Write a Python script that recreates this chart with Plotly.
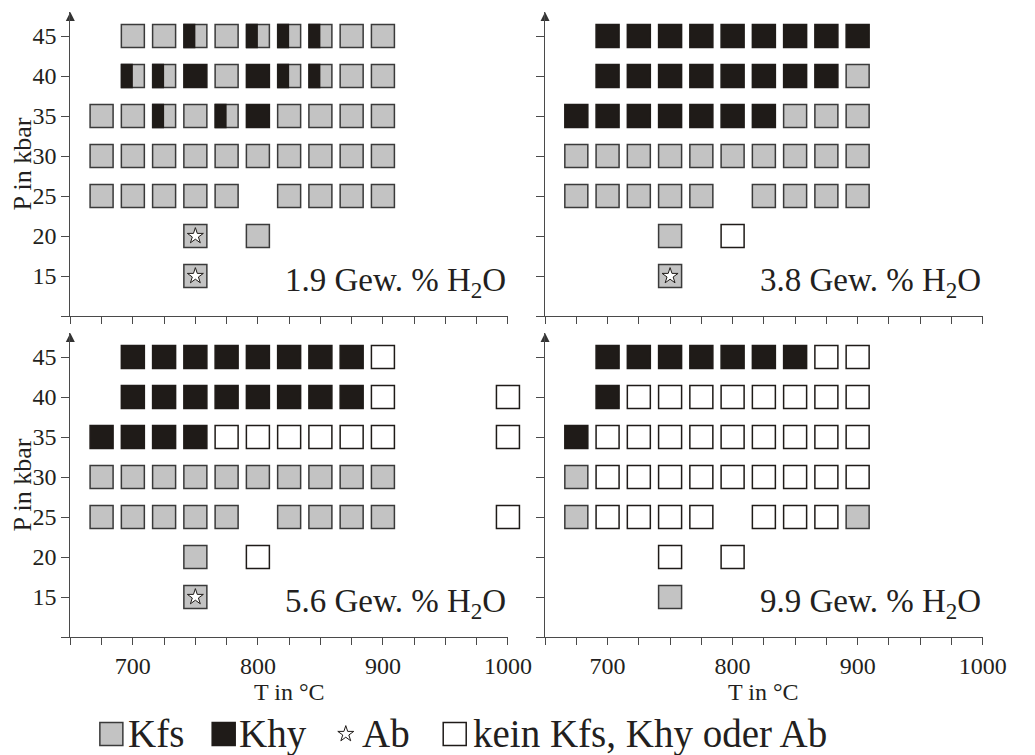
import plotly.graph_objects as go

W, H = 1035, 755

# Experimental grid: temperature columns (°C) and pressure rows (kbar)
T_GRID = [675, 700, 725, 750, 775, 800, 825, 850, 875, 900, 1000]
P_ROWS = [45, 40, 35, 30, 25, 20, 15]
WATER = ["1.9", "3.8", "5.6", "9.9"]

# Phase code per run (one character per T_GRID column):
# K = Kfs, H = Khy, M = Khy + Kfs, A = Kfs + Ab, O = kein Kfs, Khy oder Ab, - = no run
RUNS_19 = [
    "-KKMKMMMKK-",
    "-MMHKHMMKK-",
    "KKMKMHKKKK-",
    "KKKKKKKKKK-",
    "KKKKK-KKKK-",
    "---A-K-----",
    "---A-------",
]
RUNS_38 = [
    "-HHHHHHHHH-",
    "-HHHHHHHHK-",
    "HHHHHHHKKK-",
    "KKKKKKKKKK-",
    "KKKKK-KKKK-",
    "---K-O-----",
    "---A-------",
]
RUNS_56 = [
    "-HHHHHHHHO-",
    "-HHHHHHHHOO",
    "HHHHOOOOOOO",
    "KKKKKKKKKK-",
    "KKKKK-KKKKO",
    "---K-O-----",
    "---A-------",
]
RUNS_99 = [
    "-HHHHHHHOO-",
    "-HOOOOOOOO-",
    "HOOOOOOOOO-",
    "KOOOOOOOOO-",
    "KOOOO-OOOK-",
    "---O-O-----",
    "---K-------",
]
RUNS = [RUNS_19, RUNS_38, RUNS_56, RUNS_99]

T_RANGE = [650, 1000]
P_RANGE = [10, 48]
T_LABELS = [700, 800, 900, 1000]
P_LABELS = [15, 20, 25, 30, 35, 40, 45]

FONT = "Liberation Serif, Times New Roman, Times, serif"
INK = "#231f20"
AXIS = "#4a4a4a"
GRAY = "#c3c3c3"
BLACK = "#1f1b18"
EDGE = "#3a3a3a"
SQ = 23      # square marker size (px)
SQ_LW = 1.5  # square outline width (px)

# panel extents in pixels: (x_left, x_right) and (y_top, y_bottom)
X_PX = {"L": (72, 520), "R": (558, 1006)}
Y_PX = {"T": (12, 316), "B": (333, 637)}
PANELS = [("L", "T"), ("R", "T"), ("L", "B"), ("R", "B")]


def cells(runs, codes):
    xs, ys = [], []
    for p, row in zip(P_ROWS, runs):
        for t, c in zip(T_GRID, row):
            if c in codes:
                xs.append(t)
                ys.append(p)
    return xs, ys


fig = go.Figure()
shapes = []
annotations = []
layout = {}

for i, ((col, row), runs, water) in enumerate(zip(PANELS, RUNS, WATER), start=1):
    xa, ya = f"x{i}", f"y{i}"
    x0, x1 = X_PX[col]
    yt, yb = Y_PX[row]
    px_per_t = (x1 - x0) / (T_RANGE[1] - T_RANGE[0])
    px_per_p = (yb - yt) / (P_RANGE[1] - P_RANGE[0])
    left = col == "L"
    bottom = row == "B"

    axis_font = dict(family=FONT, size=24, color=INK)
    layout[f"xaxis{i}"] = dict(
        domain=[x0 / W, x1 / W], range=T_RANGE, anchor=ya,
        showline=True, linecolor=AXIS, linewidth=1.3,
        ticks="outside", ticklen=7, tickwidth=1.2, tickcolor=AXIS,
        tickmode="array", tickvals=T_LABELS, showticklabels=bottom,
        minor=dict(ticks="outside", ticklen=7, tickwidth=1.2, tickcolor=AXIS,
                   tick0=650, dtick=25, showgrid=False),
        tickfont=axis_font, showgrid=False, zeroline=False, fixedrange=True,
    )
    layout[f"yaxis{i}"] = dict(
        domain=[1 - yb / H, 1 - yt / H], range=P_RANGE, anchor=xa,
        showline=True, linecolor=AXIS, linewidth=1.3,
        ticks="outside", ticklen=8, tickwidth=1.2, tickcolor=AXIS,
        tickmode="array", tickvals=P_LABELS, showticklabels=left,
        minor=dict(ticks="outside", ticklen=8, tickwidth=1.2, tickcolor=AXIS,
                   tick0=10, dtick=5, showgrid=False),
        tickfont=axis_font, showgrid=False, zeroline=False, fixedrange=True,
    )

    common = dict(xaxis=xa, yaxis=ya, mode="markers", showlegend=False,
                  cliponaxis=False, hoverinfo="skip")

    # Kfs (also underlying Khy+Kfs and Kfs+Ab runs)
    xs, ys = cells(runs, "KMA")
    fig.add_trace(go.Scatter(x=xs, y=ys, marker=dict(symbol="square", size=SQ, color=GRAY,
                                                     line=dict(color=EDGE, width=SQ_LW)), **common))
    # Khy
    xs, ys = cells(runs, "H")
    fig.add_trace(go.Scatter(x=xs, y=ys, marker=dict(symbol="square", size=SQ, color=BLACK,
                                                     line=dict(color=BLACK, width=SQ_LW)), **common))
    # no Kfs, Khy or Ab
    xs, ys = cells(runs, "O")
    fig.add_trace(go.Scatter(x=xs, y=ys, marker=dict(symbol="square", size=SQ, color="white",
                                                     line=dict(color=BLACK, width=SQ_LW)), **common))
    # Ab star on Kfs squares
    xs, ys = cells(runs, "A")
    fig.add_trace(go.Scatter(x=xs, y=ys, marker=dict(symbol="star", size=12, color="white",
                                                     line=dict(color=BLACK, width=1)), **common))
    # Khy half of mixed runs
    half_t = (SQ + SQ_LW) / 2 / px_per_t
    half_p = (SQ + SQ_LW) / 2 / px_per_p
    xs, ys = cells(runs, "M")
    for t, p in zip(xs, ys):
        shapes.append(dict(type="rect", xref=xa, yref=ya, x0=t - half_t, x1=t,
                           y0=p - half_p, y1=p + half_p, fillcolor=BLACK,
                           line=dict(width=0), layer="above"))
    # arrow head on the pressure axis
    fig.add_trace(go.Scatter(x=[T_RANGE[0]], y=[P_RANGE[1]],
                             marker=dict(symbol="arrow-up", size=9, color="#333333",
                                         line=dict(width=0)), **common))

    # water content label
    base = yt + (P_RANGE[1] - 15) * px_per_p + 14
    annotations.append(dict(
        xref="x5", yref="y5", x=x1, y=base - 0.891 * 33 - 1,
        xanchor="right", yanchor="top", showarrow=False,
        text=f"{water} Gew. % H<sub>2</sub>O", font=dict(family=FONT, size=33, color=INK)))

    if left:
        annotations.append(dict(
            xref="x5", yref="y5", x=23, y=(yt + yb) / 2, textangle=-90,
            xanchor="center", yanchor="middle", showarrow=False,
            text="P in kbar", font=dict(family=FONT, size=26, color=INK)))
    if bottom:
        annotations.append(dict(
            xref="x5", yref="y5", x=(x0 + x1) / 2, y=699 - 0.891 * 24 - 1,
            xanchor="center", yanchor="top", showarrow=False,
            text="T in °C", font=dict(family=FONT, size=24, color=INK)))

# pixel-space overlay axes for the key
layout["xaxis5"] = dict(domain=[0, 1], range=[0, W], anchor="y5", visible=False, fixedrange=True)
layout["yaxis5"] = dict(domain=[0, 1], range=[H, 0], anchor="x5", visible=False, fixedrange=True)

KEY_LABELS = ["Kfs", "Khy", "Ab", "kein Kfs, Khy oder Ab"]
KEY_MARK_X = [114, 229, 354, 465.5]
KEY_TEXT_X = [129, 243, 369, 482]
KEY_Y = 734
KEY_BASE = 746
KEY_SIZE = 39

key = dict(xaxis="x5", yaxis="y5", mode="markers", showlegend=False,
           cliponaxis=False, hoverinfo="skip")
fig.add_trace(go.Scatter(x=[KEY_MARK_X[0]], y=[KEY_Y], marker=dict(
    symbol="square", size=SQ, color=GRAY, line=dict(color=EDGE, width=SQ_LW)), **key))
fig.add_trace(go.Scatter(x=[KEY_MARK_X[1]], y=[KEY_Y], marker=dict(
    symbol="square", size=SQ, color=BLACK, line=dict(color=BLACK, width=SQ_LW)), **key))
fig.add_trace(go.Scatter(x=[KEY_MARK_X[2]], y=[KEY_Y], marker=dict(
    symbol="star", size=12, color="white", line=dict(color=BLACK, width=1)), **key))
fig.add_trace(go.Scatter(x=[KEY_MARK_X[3]], y=[KEY_Y], marker=dict(
    symbol="square", size=SQ, color="white", line=dict(color=BLACK, width=SQ_LW)), **key))

for label, tx in zip(KEY_LABELS, KEY_TEXT_X):
    annotations.append(dict(
        xref="x5", yref="y5", x=tx, y=KEY_BASE - 0.891 * KEY_SIZE - 1,
        xanchor="left", yanchor="top", showarrow=False,
        text=label, font=dict(family=FONT, size=KEY_SIZE, color=INK)))

fig.update_layout(
    width=W, height=H, margin=dict(l=0, r=0, t=0, b=0),
    paper_bgcolor="white", plot_bgcolor="rgba(0,0,0,0)",
    shapes=shapes, annotations=annotations, **layout,
)

fig.write_html("out.html")
